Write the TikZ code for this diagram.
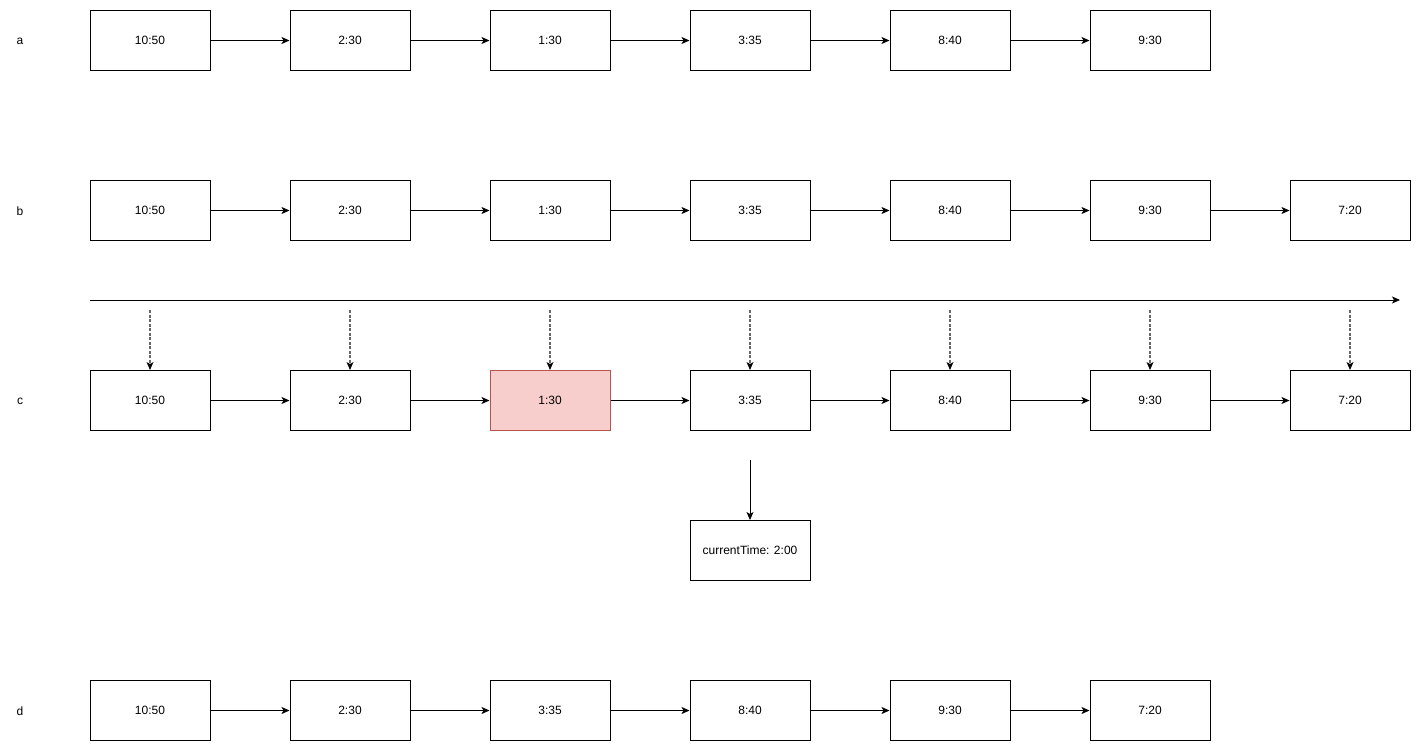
\documentclass[tikz,border=0pt]{standalone}
\usepackage{fontspec}
\setmainfont{Liberation Sans}
\usetikzlibrary{arrows.meta}
\definecolor{redfill}{HTML}{F8CECC}
\definecolor{redline}{HTML}{B85450}
\definecolor{dashgray}{HTML}{666666}
\begin{document}
\begin{tikzpicture}[x=1pt,y=-1pt,
  box/.style={draw,line width=1pt,minimum width=120pt,minimum height=60pt,inner sep=0pt,font=\fontsize{12}{14}\selectfont},
  hot/.style={box,fill=redfill,draw=redline},
  rowlabel/.style={font=\fontsize{12}{14}\selectfont,inner sep=0pt},
  arr/.style={line width=1pt,-{Stealth[length=8pt,width=7pt,inset=2pt]}},
  darr/.style={line width=1.5pt,draw=dashgray,dash pattern=on 3pt off 1.5pt,-{Stealth[length=8pt,width=7pt,inset=2pt,color=black,line width=0pt]}}]
\useasboundingbox (0,0) rectangle (1421,751);
% row labels
\node[rowlabel] (la) at (20,41) {a};
\node[rowlabel] (lb) at (20,211) {b};
\node[rowlabel] (lc) at (20,401) {c};
\node[rowlabel] (ld) at (20,711) {d};
% row a
\foreach \t [count=\i] in {10:50,2:30,1:30,3:35,8:40,9:30}
  \node[box] (a\i) at ({150+200*(\i-1)},40.5) {\t};
\foreach \i [evaluate=\i as \j using int(\i+1)] in {1,...,5}
  \draw[arr] (a\i) -- (a\j);
% row b
\foreach \t [count=\i] in {10:50,2:30,1:30,3:35,8:40,9:30,7:20}
  \node[box] (b\i) at ({150+200*(\i-1)},210.5) {\t};
\foreach \i [evaluate=\i as \j using int(\i+1)] in {1,...,6}
  \draw[arr] (b\i) -- (b\j);
% timeline
\coordinate (t0) at (90,300);
\coordinate (t1) at (1400,300);
\draw[arr] (t0) -- (t1);
% row c
\foreach \t [count=\i] in {10:50,2:30,1:30,3:35,8:40,9:30,7:20}
  \node[box] (c\i) at ({150+200*(\i-1)},400.5) {\t};
\node[hot] (c3) at (550,400.5) {1:30};
\foreach \i [evaluate=\i as \j using int(\i+1)] in {1,...,6}
  \draw[arr] (c\i) -- (c\j);
\foreach \i in {1,...,7} {
  \coordinate (s\i) at ({150+200*(\i-1)},310);
  \draw[darr] (s\i) -- (c\i.north);
}
% current time
\node[box] (cur) at (750,550.5) {currentTime: 2:00};
\coordinate (cs) at (750,460);
\draw[arr] (cs) -- (cur.north);
% row d
\foreach \t [count=\i] in {10:50,2:30,3:35,8:40,9:30,7:20}
  \node[box] (d\i) at ({150+200*(\i-1)},710.5) {\t};
\foreach \i [evaluate=\i as \j using int(\i+1)] in {1,...,5}
  \draw[arr] (d\i) -- (d\j);
\end{tikzpicture}
\end{document}
